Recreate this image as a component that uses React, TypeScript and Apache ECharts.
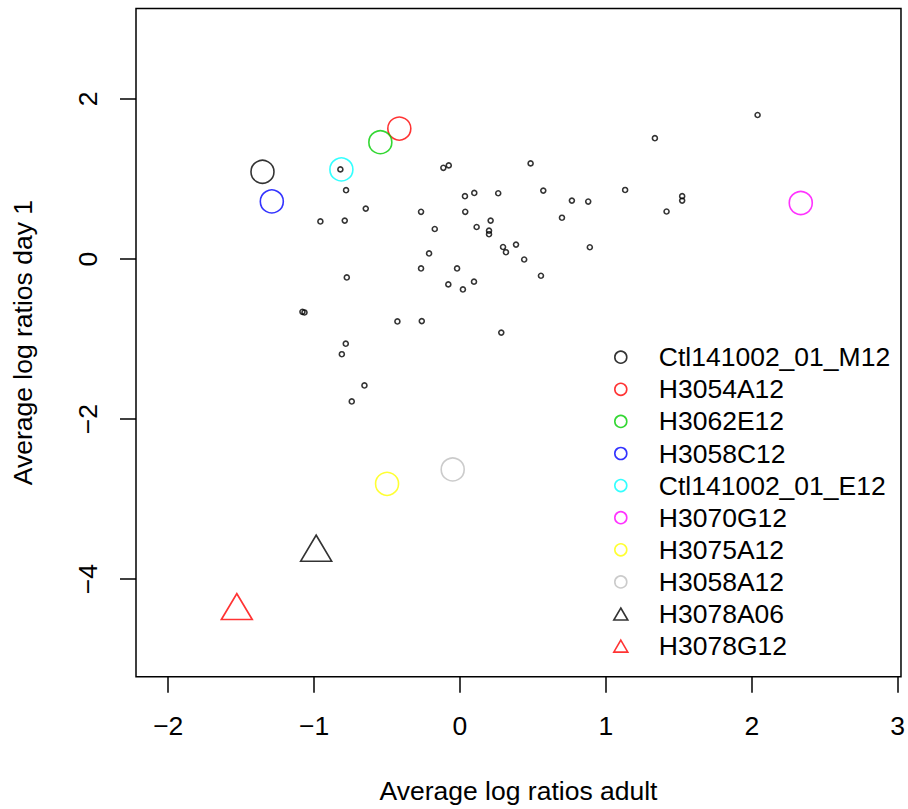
import React, { useEffect, useRef } from "react";
import * as echarts from "echarts";

// Background (unlabelled) points
const bgX = [
  -0.82, -0.781, -0.646, -0.957, -0.79, -0.776, -0.114, -0.077, -0.267, 0.034,
  0.098, 0.262, 0.036, -0.173, 0.114, 0.21, 0.199, 0.199, -0.212, 0.295,
  0.315, 0.384, 0.44, -0.267, -0.02, -0.08, 0.02, 0.096, 2.04, 1.336,
  0.484, 0.571, 0.767, 0.879, 1.132, 1.523, 1.523, 1.416, 0.699, 0.89,
  0.555, -1.08, -1.066, -0.429, -0.262, 0.283, -0.783, -0.81, -0.655, -0.742,
];
const bgY = [
  1.12, 0.86, 0.63, 0.47, 0.48, -0.23, 1.14, 1.17, 0.59, 0.785,
  0.826, 0.822, 0.59, 0.375, 0.4, 0.48, 0.354, 0.31, 0.07, 0.15,
  0.085, 0.18, -0.006, -0.118, -0.118, -0.317, -0.38, -0.283, 1.8, 1.51,
  1.195, 0.855, 0.73, 0.718, 0.863, 0.785, 0.73, 0.594, 0.516, 0.147,
  -0.209, -0.66, -0.668, -0.78, -0.776, -0.92, -1.058, -1.19, -1.58, -1.78,
];

// Highlighted samples
const sampleNames = [
  "Ctl141002_01_M12",
  "H3054A12",
  "H3062E12",
  "H3058C12",
  "Ctl141002_01_E12",
  "H3070G12",
  "H3075A12",
  "H3058A12",
  "H3078A06",
  "H3078G12",
];
const sampleX = [-1.354, -0.416, -0.546, -1.29, -0.813, 2.336, -0.5, -0.05, -0.986, -1.53];
const sampleY = [1.09, 1.63, 1.46, 0.72, 1.12, 0.7, -2.81, -2.63, -3.67, -4.4];

const xTicks = [-2, -1, 0, 1, 2, 3];
const yTicks = [-4, -2, 0, 2];

const xTitle = "Average log ratios adult";
const yTitle = "Average log ratios day 1";

// Styles (kept separate from data)
const SAMPLE_COLORS = [
  "#000000", "#FF0000", "#00CD00", "#0000FF", "#00FFFF",
  "#FF00FF", "#FFFF00", "#BEBEBE", "#000000", "#FF0000",
];
const SAMPLE_IS_TRIANGLE = [false, false, false, false, false, false, false, false, true, true];
const FONT = "'Liberation Sans', Arial, Helvetica, sans-serif";
const FS = 26.5;
const TRI_PATH = "path://M7,0L14,12L0,12Z";
const CLEAR = "rgba(0,0,0,0)";
const LW = 1.6;

const minus = (v: number | string) => String(v).replace("-", "\u2212");

export default function App() {
  const ref = useRef<HTMLDivElement>(null);

  useEffect(() => {
    if (!ref.current) return;
    const chart = echarts.init(ref.current, null, { renderer: "svg" });

    const bgData = bgX.map((x, i) => [x, bgY[i]]);

    const sampleSeries = sampleNames.map((name, i) => {
      const tri = SAMPLE_IS_TRIANGLE[i];
      return {
        type: "scatter",
        name,
        data: [[sampleX[i], sampleY[i]]],
        symbol: tri ? "triangle" : "circle",
        symbolSize: tri ? [31, 26] : 23,
        symbolOffset: tri ? [0, -4.5] : [0, 0],
        itemStyle: { color: CLEAR, borderColor: SAMPLE_COLORS[i], borderWidth: LW },
        silent: true,
        z: 3,
      };
    });

    const option: any = {
      animation: false,
      backgroundColor: "#ffffff",
      textStyle: { fontFamily: FONT },
      grid: {
        left: 136,
        right: 6,
        top: 8.5,
        bottom: 130,
        show: true,
        borderColor: "#000000",
        borderWidth: 1.5,
        backgroundColor: "transparent",
        containLabel: false,
      },
      xAxis: {
        type: "value",
        min: -2.221,
        max: 3.023,
        name: xTitle,
        nameLocation: "middle",
        nameGap: 100.5,
        nameTextStyle: { fontSize: FS, lineHeight: FS, color: "#000", fontFamily: FONT },
        axisLine: { show: false, onZero: false },
        splitLine: { show: false },
        axisTick: {
          show: true,
          length: 16,
          inside: false,
          customValues: xTicks,
          lineStyle: { color: "#000", width: 1.5 },
        },
        axisLabel: {
          show: true,
          customValues: xTicks,
          margin: 36,
          fontSize: FS,
          lineHeight: FS,
          color: "#000",
          fontFamily: FONT,
          formatter: (v: number) => minus(v),
        },
      },
      yAxis: {
        type: "value",
        min: -5.221,
        max: 3.131,
        name: yTitle,
        nameLocation: "middle",
        nameGap: 100,
        nameRotate: 90,
        nameTextStyle: { fontSize: FS, lineHeight: FS, color: "#000", fontFamily: FONT },
        axisLine: { show: false, onZero: false },
        splitLine: { show: false },
        axisTick: {
          show: true,
          length: 16,
          inside: false,
          customValues: yTicks,
          lineStyle: { color: "#000", width: 1.5 },
        },
        axisLabel: {
          show: true,
          customValues: yTicks,
          rotate: 90,
          margin: 35,
          fontSize: FS,
          lineHeight: FS,
          color: "#000",
          fontFamily: FONT,
          formatter: (v: number) => minus(v),
        },
      },
      legend: {
        show: true,
        orient: "vertical",
        left: 613,
        top: 343.7,
        padding: 0,
        itemGap: 5.1,
        itemWidth: 66,
        itemHeight: 12,
        selectedMode: false,
        symbolKeepAspect: true,
        textStyle: { fontSize: FS, lineHeight: 26, color: "#000", fontFamily: FONT },
        data: sampleNames.map((name, i) => ({
          name,
          icon: SAMPLE_IS_TRIANGLE[i] ? TRI_PATH : "circle",
          itemStyle: { color: CLEAR, borderColor: SAMPLE_COLORS[i], borderWidth: LW },
        })),
      },
      series: [
        {
          type: "scatter",
          name: "points",
          data: bgData,
          symbol: "circle",
          symbolSize: 5,
          itemStyle: { color: CLEAR, borderColor: "#000000", borderWidth: LW },
          silent: true,
          z: 2,
        },
        ...sampleSeries,
      ],
    };

    chart.setOption(option);
    return () => chart.dispose();
  }, []);

  return (
    <div
      ref={ref}
      style={{ position: "fixed", left: 0, top: 0, width: 908, height: 809, background: "#fff" }}
    />
  );
}
